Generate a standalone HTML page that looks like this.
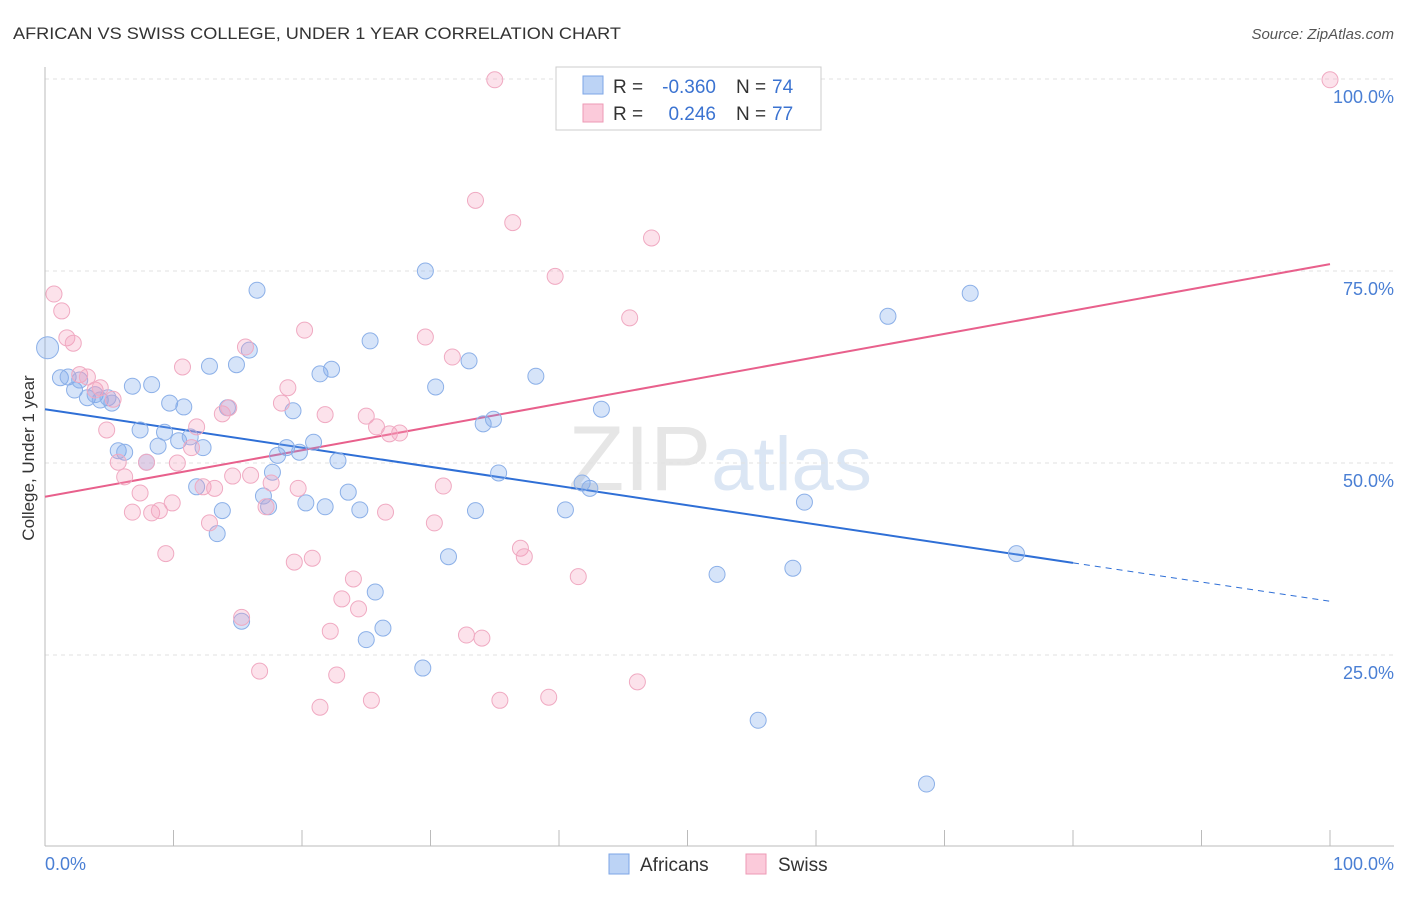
<!DOCTYPE html>
<html><head><meta charset="utf-8"><style>
body{margin:0;background:#fff;font-family:"Liberation Sans",sans-serif}
svg text{font-family:"Liberation Sans",sans-serif}
</style></head><body>
<svg id="chart" width="1406" height="892" viewBox="0 0 1406 892">
<text x="13" y="39" font-size="17" fill="#333" textLength="608" lengthAdjust="spacingAndGlyphs">AFRICAN VS SWISS COLLEGE, UNDER 1 YEAR CORRELATION CHART</text>
<text x="1394" y="39" font-size="15" fill="#555" text-anchor="end" font-style="italic">Source: ZipAtlas.com</text>
<text x="720" y="490" font-size="92" text-anchor="middle" fill="#e6e6e6" font-family="Liberation Serif">ZIP<tspan fill="#dbe6f4" font-family="Liberation Sans" font-size="76">atlas</tspan></text>
<g id="grid"></g><g id="axes"></g><g id="trends"></g><g id="points"></g>
<text transform="translate(34,458) rotate(-90)" font-size="17" fill="#333" text-anchor="middle">College, Under 1 year</text>
<text x="45" y="870" font-size="18" fill="#4a7fd4">0.0%</text>
<text x="1394" y="870" font-size="18" fill="#4a7fd4" text-anchor="end">100.0%</text>
<g>
<rect x="556" y="67" width="265" height="63" fill="#fff" stroke="#ccc"/>
<rect x="583" y="76" width="20" height="18" fill="#bcd3f5" stroke="#7da6e6"/>
<rect x="583" y="104" width="20" height="18" fill="#fbcada" stroke="#ee9ab5"/>
<text x="613" y="93" font-size="19" fill="#333">R =</text>
<text x="716" y="93" font-size="19" fill="#3b73d1" text-anchor="end">-0.360</text>
<text x="736" y="93" font-size="19" fill="#333">N =</text>
<text x="772" y="93" font-size="19" fill="#3b73d1">74</text>
<text x="613" y="120" font-size="19" fill="#333">R =</text>
<text x="716" y="120" font-size="19" fill="#3b73d1" text-anchor="end">0.246</text>
<text x="736" y="120" font-size="19" fill="#333">N =</text>
<text x="772" y="120" font-size="19" fill="#3b73d1">77</text>
</g>
<g>
<rect x="609" y="854" width="20" height="20" fill="#bcd3f5" stroke="#7da6e6"/>
<text x="640" y="871" font-size="19" fill="#333">Africans</text>
<rect x="746" y="854" width="20" height="20" fill="#fbcada" stroke="#ee9ab5"/>
<text x="778" y="871" font-size="19" fill="#333">Swiss</text>
</g>
</svg>
<script>
const yTicks=[25,50,75,100];
const yTickLabels=["25.0%","50.0%","75.0%","100.0%"];
const xTicks=[0,10,20,30,40,50,60,70,80,90,100];
const africansX=[0.2,1.2,1.8,2.3,2.7,3.3,3.9,4.3,4.9,5.2,5.7,6.2,6.8,7.4,7.9,8.3,8.8,9.3,9.7,10.4,10.8,11.3,11.8,12.3,12.8,13.4,13.8,14.2,14.9,15.3,15.9,16.5,17.0,17.4,17.7,18.1,18.8,19.3,19.8,20.3,20.9,21.4,21.8,22.3,22.8,23.6,24.5,25.3,25.7,26.3,25.0,29.4,29.6,30.4,31.4,33.0,33.5,34.1,34.9,35.3,38.2,40.5,41.8,42.4,43.3,52.3,55.5,58.2,59.1,65.6,68.6,72.0,75.6];
const africansY=[65.0,61.1,61.2,59.5,60.8,58.5,58.9,58.2,58.5,57.8,51.6,51.4,60.0,54.3,50.1,60.2,52.2,54.0,57.8,52.9,57.3,53.4,46.9,52.0,62.6,40.8,43.8,57.2,62.8,29.4,64.7,72.5,45.7,44.3,48.8,51.0,52.0,56.8,51.4,44.8,52.7,61.6,44.3,62.2,50.3,46.2,43.9,65.9,33.2,28.5,27.0,23.3,75.0,59.9,37.8,63.3,43.8,55.1,55.7,48.7,61.3,43.9,47.4,46.7,57.0,35.5,16.5,36.3,44.9,69.1,8.2,72.1,38.2];
const swissX=[0.7,1.3,1.7,2.2,2.7,3.3,3.9,4.3,4.8,5.3,5.7,6.2,6.8,7.4,7.9,8.3,8.9,9.4,9.9,10.3,10.7,11.4,11.8,12.3,12.8,13.2,13.8,14.3,14.6,15.3,15.6,16.0,16.7,17.2,17.6,18.4,18.9,19.4,19.7,20.2,20.8,21.4,21.8,22.2,22.7,23.1,24.0,24.4,25.0,25.4,25.8,26.5,26.8,27.6,29.6,30.3,31.0,31.7,32.8,33.5,34.0,35.0,35.4,36.4,37.0,37.3,39.2,39.7,41.5,45.5,46.1,47.2,100];
const swissY=[72.0,69.8,66.3,65.6,61.5,61.2,59.5,59.8,54.3,58.3,50.1,48.2,43.6,46.1,50.1,43.5,43.8,38.2,44.8,50.0,62.5,52.0,54.7,46.9,42.2,46.7,56.4,57.2,48.3,29.9,65.1,48.4,22.9,44.3,47.4,57.8,59.8,37.1,46.7,67.3,37.6,18.2,56.3,28.1,22.4,32.3,34.9,31.0,56.1,19.1,54.7,43.6,53.8,53.9,66.4,42.2,47.0,63.8,27.6,84.2,27.2,99.9,19.1,81.3,38.9,37.8,19.5,74.3,35.2,68.9,21.5,79.3,99.9];
const africansTrend=[57.0,37.0,32.0]; // at x=0, 80, 100
const swissTrend=[45.6,75.9]; // at x=0, 100

const NS="http://www.w3.org/2000/svg";
const X=v=>45+v*12.85, Y=v=>847-v*7.68;
function mk(tag,attrs,parent){const e=document.createElementNS(NS,tag);for(const k in attrs)e.setAttribute(k,attrs[k]);parent.appendChild(e);return e;}
const grid=document.getElementById('grid'),axes=document.getElementById('axes'),trends=document.getElementById('trends'),pts=document.getElementById('points');
yTicks.forEach((t,i)=>{
  const l=mk('line',{x1:45,x2:1394,y1:Y(t),y2:Y(t),stroke:'#e2e2e2','stroke-dasharray':'4,4'},grid);
  
  
  const tx=mk('text',{x:1394,y:Y(t)+24,'font-size':18,fill:'#4a7fd4','text-anchor':'end'},grid);
  tx.textContent=yTickLabels[i];
  
  
});
const ya=mk('line',{x1:45,x2:45,y1:67,y2:846,stroke:'#bbb'},axes);


const xa=mk('line',{x1:45,x2:1394,y1:846,y2:846,stroke:'#bbb'},axes);


xTicks.forEach(t=>{
  const l=mk('line',{x1:X(t),x2:X(t),y1:830,y2:846,stroke:'#bbb'},axes);
  
  
});
let bt=mk('line',{x1:X(0),y1:Y(africansTrend[0]),x2:X(80),y2:Y(africansTrend[1]),stroke:'#2f6fd6','stroke-width':2},trends);


let bd=mk('line',{x1:X(80),y1:Y(africansTrend[1]),x2:X(100),y2:Y(africansTrend[2]),stroke:'#2f6fd6','stroke-width':1,'stroke-dasharray':'6,5'},trends);


let pt=mk('line',{x1:X(0),y1:Y(swissTrend[0]),x2:X(100),y2:Y(swissTrend[1]),stroke:'#e8608c','stroke-width':2},trends);


africansX.forEach((x,i)=>{
  const c=mk('circle',{cx:X(x),cy:Y(africansY[i]),r:i===0?11:8,fill:'rgba(120,165,235,0.3)',stroke:'#8cb0e8','stroke-width':1},pts);
  
  
});
swissX.forEach((x,i)=>{
  const c=mk('circle',{cx:X(x),cy:Y(swissY[i]),r:8,fill:'rgba(245,160,190,0.3)',stroke:'#f0aac2','stroke-width':1},pts);
  
  
});
</script>
</body></html>
